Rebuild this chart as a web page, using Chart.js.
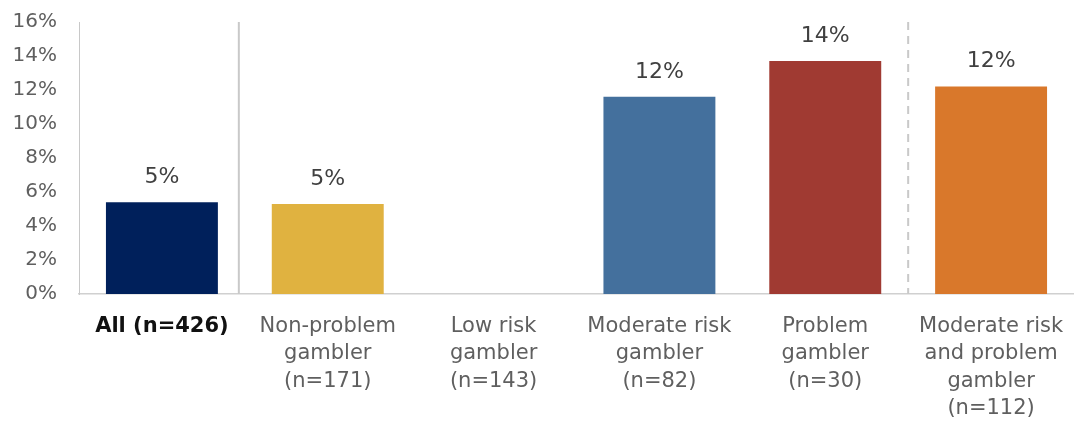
<!DOCTYPE html>
<html>
<head>
<meta charset="utf-8">
<script src="https://cdn.jsdelivr.net/npm/chart.js@4/dist/chart.umd.min.js"></script>
<style>
  html, body { margin: 0; padding: 0; background: #fff; }
  #wrap { width: 1074px; height: 421px; }
</style>
</head>
<body>
<div id="wrap"><canvas id="myChart"></canvas></div>
<script>
// groups and share of each group (percent)
const groups = [
    'All (n=426)',
    ['Non-problem', 'gambler', '(n=171)'],
    ['Low risk', 'gambler', '(n=143)'],
    ['Moderate risk', 'gambler', '(n=82)'],
    ['Problem', 'gambler', '(n=30)'],
    ['Moderate risk', 'and problem', 'gambler', '(n=112)']
];
const shares = [5.4, 5.3, null, 11.6, 13.7, 12.2];
const barColors = ['#00205b', '#e0b240', '#44709d', '#44709d', '#a03a32', '#d9782b'];
const yTicks = [0, 2, 4, 6, 8, 10, 12, 14, 16];

const FONT = "'DejaVu Sans', sans-serif";
const GREY = '#5f5f5f';

// value labels above each bar
const barLabels = {
    id: 'barLabels',
    afterDatasetsDraw(chart) {
        const ctx = chart.ctx;
        const meta = chart.getDatasetMeta(0);
        ctx.save();
        ctx.font = '22px ' + FONT;
        ctx.fillStyle = '#404040';
        ctx.textAlign = 'center';
        ctx.textBaseline = 'middle';
        meta.data.forEach(function(bar, i) {
            let v = shares[i];
            if (v === null) return;
            ctx.fillText(Math.round(v) + '%', bar.x, bar.y - 25);
        });
        ctx.restore();
    }
};

// vertical separators between "All" / subgroups / combined group
const separators = {
    id: 'separators',
    beforeDatasetsDraw(chart) {
        const ctx = chart.ctx;
        const x = chart.scales.x;
        const area = chart.chartArea;
        ctx.save();
        ctx.strokeStyle = '#c9c9c9';
        ctx.lineWidth = 2;
        let x1 = (x.getPixelForValue(0) + x.getPixelForValue(1)) / 2 - 6;
        ctx.beginPath();
        ctx.moveTo(x1, area.top);
        ctx.lineTo(x1, area.bottom);
        ctx.stroke();
        let x2 = (x.getPixelForValue(4) + x.getPixelForValue(5)) / 2;
        ctx.setLineDash([8, 6]);
        ctx.beginPath();
        ctx.moveTo(x2, area.top);
        ctx.lineTo(x2, area.bottom);
        ctx.stroke();
        ctx.restore();
    }
};

new Chart(document.getElementById('myChart'), {
    type: 'bar',
    data: {
        labels: groups,
        datasets: [{
            data: shares,
            backgroundColor: barColors,
            categoryPercentage: 1,
            barPercentage: 0.675
        }]
    },
    options: {
        responsive: true,
        maintainAspectRatio: false,
        animation: false,
        layout: { padding: { top: 22, right: 0, left: 0, bottom: 0 } },
        plugins: {
            legend: { display: false },
            tooltip: { enabled: false }
        },
        scales: {
            x: {
                afterFit: function(scale) {
                    scale.height = 127;
                    scale.paddingLeft = 0;
                    scale.paddingRight = 0;
                },
                grid: { display: false, drawTicks: false },
                border: { display: true, color: '#d0d0d0', width: 1.5 },
                ticks: {
                    autoSkip: false,
                    maxRotation: 0,
                    padding: 19,
                    color: function(c) { return c.index === 0 ? '#111' : GREY; },
                    font: function(c) {
                        return {
                            family: FONT,
                            size: 21,
                            lineHeight: 1.3,
                            weight: c.index === 0 ? 'bold' : 'normal'
                        };
                    }
                }
            },
            y: {
                min: 0,
                max: 16,
                afterFit: function(scale) {
                    scale.width = 79;
                    scale.paddingTop = 0;
                    scale.paddingBottom = 0;
                },
                afterBuildTicks: function(scale) {
                    scale.ticks = yTicks.map(function(v) { return { value: v }; });
                },
                grid: { display: false, drawTicks: false },
                border: { display: true, color: '#c8c8c8', width: 1, dash: [2, 2] },
                ticks: {
                    padding: 22,
                    color: GREY,
                    font: { family: FONT, size: 20 },
                    callback: function(v) { return v + '%'; }
                }
            }
        }
    },
    plugins: [separators, barLabels]
});
</script>
</body>
</html>
